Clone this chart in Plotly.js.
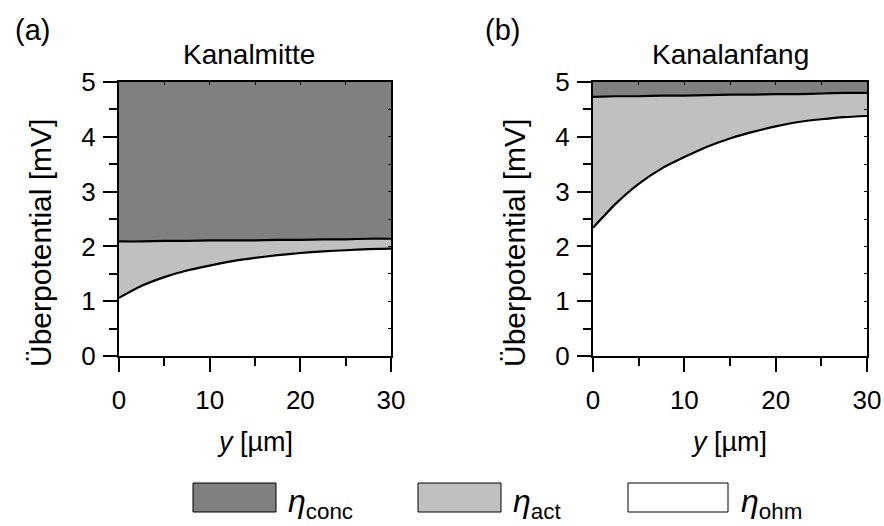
<!DOCTYPE html>
<html><head><meta charset="utf-8">
<script src="https://cdn.plot.ly/plotly-3.0.1.min.js"></script>
<style>html,body{margin:0;padding:0;background:#fff}#chart{width:884px;height:526px}</style>
</head><body><div id="chart"></div>
<script>
// ---- data ----
const y_um = [0, 2.5, 5, 7.5, 10, 12.5, 15, 17.5, 20, 22.5, 25, 27.5, 30];
// Kanalmitte (a)
const mitte_ohm  = [1.06, 1.28, 1.44, 1.56, 1.65, 1.73, 1.79, 1.84, 1.88, 1.91, 1.93, 1.95, 1.96];
const mitte_act  = [1.03, 0.81, 0.66, 0.54, 0.46, 0.38, 0.32, 0.28, 0.24, 0.22, 0.20, 0.19, 0.18];
const mitte_conc = [2.91, 2.91, 2.90, 2.90, 2.89, 2.89, 2.89, 2.88, 2.88, 2.87, 2.87, 2.87, 2.86];
// Kanalanfang (b)
const anfang_ohm  = [2.34, 2.78, 3.14, 3.42, 3.63, 3.82, 3.97, 4.09, 4.19, 4.27, 4.32, 4.36, 4.38];
const anfang_act  = [2.39, 1.96, 1.60, 1.33, 1.12, 0.94, 0.80, 0.68, 0.59, 0.51, 0.47, 0.44, 0.42];
const anfang_conc = [0.27, 0.26, 0.26, 0.25, 0.25, 0.24, 0.23, 0.23, 0.22, 0.22, 0.21, 0.20, 0.20];

const xTickVals = [0, 10, 20, 30];
const xMinorVals = [5, 15, 25];
const yTickVals = [0, 1, 2, 3, 4, 5];
const panelTitles = ['Kanalmitte', 'Kanalanfang'];
const panelLabels = ['(a)', '(b)'];
const yTitle = 'Überpotential [mV]';
const xTitle = '<i>y</i> [µm]';
const legendSubs = ['conc', 'act', 'ohm'];
const legendColors = ['#808080', '#c0c0c0', '#ffffff'];

// ---- layout helpers ----
const W = 884, H = 526;
const px = x => x / W;
const py = y => 1 - y / H;
const FONT = 'Liberation Sans, Arial, Helvetica, sans-serif';

const panels = [
  {ohm: mitte_ohm, act: mitte_act, conc: mitte_conc, x0: 119, x1: 391},
  {ohm: anfang_ohm, act: anfang_act, conc: anfang_conc, x0: 593, x1: 867}
];
const plotTop = 82, plotBottom = 356;

const traces = [];
const layout = {
  width: W, height: H,
  margin: {l: 0, r: 0, t: 0, b: 0, pad: 0},
  showlegend: false,
  paper_bgcolor: '#fff', plot_bgcolor: '#fff',
  font: {family: FONT, color: '#000'},
  annotations: [], shapes: []
};

panels.forEach((p, i) => {
  const xa = i === 0 ? 'x' : 'x2', ya = i === 0 ? 'y' : 'y2';
  const xo = i === 0 ? 'x3' : 'x4', yo = i === 0 ? 'y3' : 'y4';
  const sg = 'stack' + i;
  const series = [
    {y: p.ohm, fill: '#ffffff', lw: 2.2},
    {y: p.act, fill: legendColors[1], lw: 2.2},
    {y: p.conc, fill: legendColors[0], lw: 0}
  ];
  series.forEach(s => traces.push({
    x: y_um, y: s.y, xaxis: xa, yaxis: ya, stackgroup: sg, type: 'scatter',
    mode: 'lines', fillcolor: s.fill,
    line: {color: '#000', width: s.lw, shape: 'spline', smoothing: 0.6},
    hoverinfo: 'skip'
  }));
  // invisible trace for the mirror (inside-tick) axes
  traces.push({x: y_um, y: p.ohm, xaxis: xo, yaxis: yo, mode: 'lines',
    line: {width: 0, color: 'rgba(0,0,0,0)'}, hoverinfo: 'skip'});

  const dom = [px(p.x0), px(p.x1)];
  const ydom = [py(plotBottom), py(plotTop)];
  const suf = i === 0 ? '' : '2';
  const osuf = i === 0 ? '3' : '4';
  layout['xaxis' + suf] = {
    domain: dom, anchor: ya, range: [0, 30], tickmode: 'array', tickvals: xTickVals,
    ticks: 'outside', ticklen: 14, tickwidth: 2, tickcolor: '#000',
    minor: {tickmode: 'array', tickvals: xMinorVals, ticks: 'outside', ticklen: 8, tickwidth: 2, tickcolor: '#000', showgrid: false},
    showline: true, linewidth: 2, linecolor: '#000', showgrid: false, zeroline: false,
    tickfont: {size: 26, family: FONT, color: '#000'}, fixedrange: true, automargin: false,
    ticklabelstandoff: 6
  };
  layout['yaxis' + suf] = {
    domain: ydom, anchor: xa, range: [0, 5], tickmode: 'array', tickvals: yTickVals,
    ticks: 'outside', ticklen: 14, tickwidth: 2, tickcolor: '#000',
    minor: {dtick: 0.5, ticks: 'outside', ticklen: 8, tickwidth: 2, tickcolor: '#000', showgrid: false},
    showline: true, linewidth: 2, linecolor: '#000', showgrid: false, zeroline: false,
    tickfont: {size: 26, family: FONT, color: '#000'}, fixedrange: true, automargin: false,
    ticklabelstandoff: 2
  };
  layout['xaxis' + osuf] = {
    domain: dom, anchor: yo, overlaying: xa, side: 'top', range: [0, 30], dtick: 5,
    ticks: 'inside', ticklen: 3, tickwidth: 1, tickcolor: '#000', showticklabels: false,
    showline: true, linewidth: 2, linecolor: '#000', showgrid: false, zeroline: false, fixedrange: true
  };
  layout['yaxis' + osuf] = {
    domain: ydom, anchor: xo, overlaying: ya, side: 'right', range: [0, 5], dtick: 0.5,
    ticks: 'inside', ticklen: 3, tickwidth: 1, tickcolor: '#000', showticklabels: false,
    showline: true, linewidth: 2, linecolor: '#000', showgrid: false, zeroline: false, fixedrange: true
  };

  const shift = p.x0 - panels[0].x0;
  layout.annotations.push(
    {text: panelLabels[i], x: px(32 + (i === 0 ? 0 : 470)), y: py(30), xref: 'paper', yref: 'paper',
     showarrow: false, font: {size: 29}, xanchor: 'center', yanchor: 'middle'},
    {text: panelTitles[i], x: px(i === 0 ? 249 : 730), y: py(55), xref: 'paper', yref: 'paper',
     showarrow: false, font: {size: 28}, xanchor: 'center', yanchor: 'middle'},
    {text: yTitle, x: px(40 + shift), y: py(243), xref: 'paper', yref: 'paper', textangle: -90,
     showarrow: false, font: {size: 30}, xanchor: 'center', yanchor: 'middle'},
    {text: xTitle, x: px(255 + shift), y: py(442), xref: 'paper', yref: 'paper',
     showarrow: false, font: {size: 27}, xanchor: 'center', yanchor: 'middle'}
  );
});

// legend (drawn manually as in the reference)
const legBoxes = [[193, 276], [418, 501], [628, 728]];
const legText = [286, 511, 739];
legBoxes.forEach((b, i) => {
  layout.shapes.push({type: 'rect', xref: 'paper', yref: 'paper',
    x0: px(b[0]), x1: px(b[1]), y0: py(512), y1: py(483),
    fillcolor: legendColors[i], line: {color: '#000', width: 1}});
  layout.annotations.push({text: '<i>η</i><sub>' + legendSubs[i] + '</sub>',
    x: px(legText[i]), y: py(503), xref: 'paper', yref: 'paper', showarrow: false,
    font: {size: 32}, xanchor: 'left', yanchor: 'middle'});
});

Plotly.newPlot('chart', traces, layout, {staticPlot: true, displayModeBar: false});
</script></body></html>
